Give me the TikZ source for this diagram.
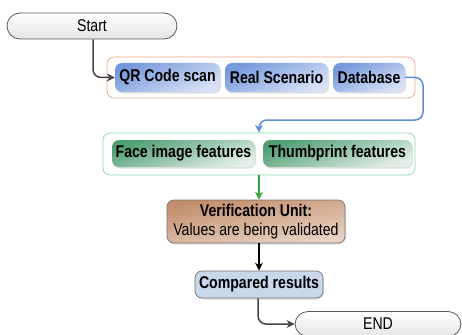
\documentclass[tikz,border=0pt]{standalone}
\usepackage{fontspec}
\setmainfont{Liberation Sans}[FakeStretch=0.83]
\usetikzlibrary{arrows.meta,shadows,positioning}
\definecolor{bluedark}{HTML}{7698DC}
\definecolor{bluelight}{HTML}{D8E2F6}
\definecolor{greendark}{HTML}{4F9F73}
\definecolor{greenlight}{HTML}{E4EEE8}
\definecolor{browndark}{HTML}{C28C6A}
\definecolor{brownlight}{HTML}{E8D4C6}
\definecolor{cmpfill}{HTML}{C8D7EA}
\definecolor{orangeline}{HTML}{E9A584}
\definecolor{greenline}{HTML}{8AD8AE}
\definecolor{arrowgray}{HTML}{444444}
\definecolor{arrowblue}{HTML}{5B8ED8}
\definecolor{arrowgreen}{HTML}{34A534}
\tikzset{
  lbl/.style={font=\fontsize{17}{19}\selectfont, inner sep=0pt, text=black},
  boldlbl/.style={lbl, font=\fontsize{17}{19}\selectfont\bfseries},
  terminal/.style={lbl, draw=black!65, line width=0.8pt, rounded corners=13pt,
    top color=white, bottom color=black!10},
  shadowed/.style={drop shadow={opacity=0.25, shadow xshift=1pt, shadow yshift=-1.5pt}},
  bluebox/.style={boldlbl, rounded corners=7pt,
    top color=bluedark, bottom color=bluelight, shading angle=25,
    shadowed, minimum height=29pt},
  greenbox/.style={boldlbl, rounded corners=7pt,
    top color=greendark, bottom color=greenlight, shading angle=20,
    shadowed, minimum height=27pt},
  container/.style={rounded corners=7pt, line width=0.7pt, fill=white},
  arr/.style={line width=1.5pt, rounded corners=8pt, -{Stealth[length=8pt,width=8pt]}},
}
\begin{document}
\begin{tikzpicture}[x=1pt,y=-1pt]
\useasboundingbox (0,0) rectangle (462,334);
% start
\node[terminal, minimum width=170pt, minimum height=26pt] (start) at (92,26) {Start};
% containers
\node[container, draw=orangeline, minimum width=308pt, minimum height=41pt] (obox) at (261,77.5) {};
\node[container, draw=greenline, minimum width=312pt, minimum height=42pt] (gbox) at (259,154) {};
% blue boxes
\node[bluebox, minimum width=105pt] (qr) at (167.5,77.5) {QR Code scan};
\node[bluebox, minimum width=103pt] (real) at (276.5,77.5) {Real Scenario};
\node[bluebox, minimum width=72pt] (db) at (369,77.5) {Database};
% green boxes
\node[greenbox, minimum width=143pt] (face) at (183.5,153.5) {Face image features};
\node[greenbox, minimum width=149pt] (thumb) at (337.5,153.5) {Thumbprint features};
% verification
\node[lbl, align=center, draw=black!55, line width=0.7pt, rounded corners=7pt,
  top color=browndark, bottom color=brownlight, shading angle=10, shadowed,
  minimum width=178pt, minimum height=43pt] (verif) at (256,221.5)
  {\textbf{Verification Unit:}\\[0pt]Values are being validated};
% compared
\node[boldlbl, draw=black!55, line width=0.7pt, rounded corners=7pt,
  fill=cmpfill, shadowed,
  minimum width=128pt, minimum height=27pt] (cmp) at (259,284.5) {Compared results};
% end
\node[terminal, minimum width=166pt, minimum height=25pt] (end) at (378,324) {END};
% coordinates
\coordinate (c1) at (423,120);
\coordinate (c2) at (259,120);
% connectors
\draw[arr, arrowgray] (start.south -| 93,0) |- (qr.west);
\draw[arr, arrowblue] (db.east) -| (c1) -- (c2) -- (gbox.north -| c2);
\draw[arr, arrowgreen] (gbox.south) -- (gbox.south |- verif.north);
\draw[arr, black] (cmp.north |- verif.south) -- (cmp.north);
\draw[arr, arrowgray] (cmp.south -| 258,0) |- (end.west);
\end{tikzpicture}
\end{document}
